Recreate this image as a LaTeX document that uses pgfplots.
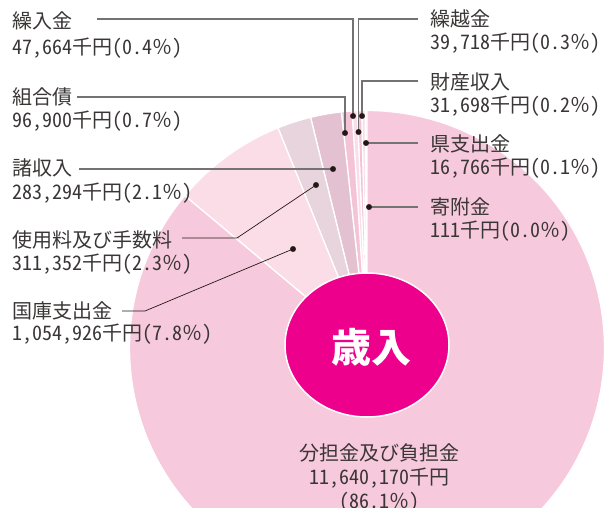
\documentclass[border=0pt]{standalone}
\usepackage{pgfplots}
\pgfplotsset{compat=1.18}
\usepackage{fontspec}
\setmainfont{Noto Sans CJK JP}
\newfontfamily\hw{Noto Sans CJK JP}[RawFeature=+hwid]
\definecolor{txt}{HTML}{3A3636}
\definecolor{lgray}{HTML}{747272}
\definecolor{dk}{HTML}{231815}
\definecolor{mag}{HTML}{EC008C}
\definecolor{sA}{HTML}{F7C9DC}
\definecolor{sB}{HTML}{F7C9DC}
\definecolor{sC}{HTML}{FADDE8}
\definecolor{sD}{HTML}{F4C2D6}
\definecolor{sE}{HTML}{FADDE8}
\definecolor{sF}{HTML}{F4C3D6}
\definecolor{sG}{HTML}{E3C1D0}
\definecolor{sH}{HTML}{E7D4DC}
\definecolor{sI}{HTML}{FBDDE8}
\definecolor{sJ}{HTML}{F7C9DC}
\newcommand\num[3]{{\hw #1}千円{\hw (#2}％{\hw )}}
\begin{document}
\begin{tikzpicture}
\begin{axis}[
  scale only axis, width=604pt, height=507pt,
  xmin=0, xmax=604, ymin=-507, ymax=0,
  enlargelimits=false, hide axis, clip=true,
]
% values in thousand yen, counter-clockwise from 12 o'clock
\gdef\total{0}
\foreach \v in {111,16766,31698,39718,47664,96900,283294,311352,1054926,11640170}{%
  \xdef\total{\fpeval{\total+\v}}}
\gdef\cum{0}
\foreach \v/\c in {111/sA,16766/sB,31698/sC,39718/sD,47664/sE,96900/sF,283294/sG,311352/sH,1054926/sI,11640170/sJ}{%
  \edef\a{\fpeval{90+360*\cum/\total}}%
  \xdef\cum{\fpeval{\cum+\v}}%
  \edef\b{\fpeval{90+360*\cum/\total}}%
  \edef\temp{\noexpand\fill[\c, draw=white, line width=1.3pt] (axis cs:367,-348) -- ++(\a:237.5pt) arc[start angle=\a,end angle=\b,radius=237.5pt] -- cycle;}%
  \temp
}
\fill[mag, draw=white, line width=1.5pt] (axis cs:367,-345) ellipse [x radius=82pt, y radius=72pt];
\node[text=white, font=\bfseries\fontsize{40}{40}\selectfont] at (axis cs:371,-347) {歳入};
% leader lines
\addplot[lgray, line width=1.3pt] coordinates {(97,-19) (353,-19) (353,-116)};
\addplot[lgray, line width=1.3pt] coordinates {(418,-19) (358.5,-19) (358.5,-132)};
\addplot[lgray, line width=1.3pt] coordinates {(418,-81) (362,-81) (362,-116)};
\addplot[lgray, line width=1.3pt] coordinates {(77,-97) (345,-97) (345,-133)};
\addplot[lgray, line width=1.3pt] coordinates {(418,-143) (366,-143)};
\addplot[lgray, line width=1.3pt] coordinates {(418,-207) (369,-207)};
\addplot[lgray, line width=1.3pt] coordinates {(79,-169) (333,-169)};
\addplot[dk, line width=0.7pt] coordinates {(182,-238) (237,-238) (316,-185)};
\addplot[dk, line width=0.7pt] coordinates {(122,-311) (145,-311) (293,-249)};
\addplot[only marks, mark=*, mark size=2.7pt, dk] coordinates {
 (353,-116) (358.5,-132) (362,-116) (345,-133) (366,-143) (369,-207) (333,-169) (316,-185) (293,-249)};
% labels
\tikzset{lab/.style={anchor=base west, inner sep=0pt, text=txt, font=\fontsize{20}{24}\selectfont},
         labc/.style={anchor=base, inner sep=0pt, text=txt, font=\fontsize{20}{24}\selectfont}}
\node[lab] at (axis cs:12,-28.5) {繰入金};
\node[lab] at (axis cs:12,-54.5) {\num{47,664}{0.4}{}};
\node[lab] at (axis cs:12,-104.5) {組合債};
\node[lab] at (axis cs:12,-127.5) {\num{96,900}{0.7}{}};
\node[lab] at (axis cs:12,-175.5) {諸収入};
\node[lab] at (axis cs:12,-199.5) {\num{283,294}{2.1}{}};
\node[lab] at (axis cs:12,-247.5) {使用料及び手数料};
\node[lab] at (axis cs:12,-270.5) {\num{311,352}{2.3}{}};
\node[lab] at (axis cs:12,-318.5) {国庫支出金};
\node[lab] at (axis cs:12,-340.5) {\num{1,054,926}{7.8}{}};
\node[lab] at (axis cs:430,-26.5) {繰越金};
\node[lab] at (axis cs:430,-49.5) {\num{39,718}{0.3}{}};
\node[lab] at (axis cs:430,-89.5) {財産収入};
\node[lab] at (axis cs:430,-112.5) {\num{31,698}{0.2}{}};
\node[lab] at (axis cs:430,-151.5) {県支出金};
\node[lab] at (axis cs:430,-174.5) {\num{16,766}{0.1}{}};
\node[lab] at (axis cs:430,-214.5) {寄附金};
\node[lab] at (axis cs:430,-237.5) {\num{111}{0.0}{}};
\node[labc] at (axis cs:379,-460.5) {分担金及び負担金};
\node[labc] at (axis cs:379,-484.5) {{\hw 11,640,170}千円};
\node[labc] at (axis cs:379,-508.5) {{\hw (86.1}％{\hw )}};
\end{axis}
\pgfresetboundingbox
\path (current axis.south west) rectangle (current axis.north east);
\end{tikzpicture}
\end{document}
